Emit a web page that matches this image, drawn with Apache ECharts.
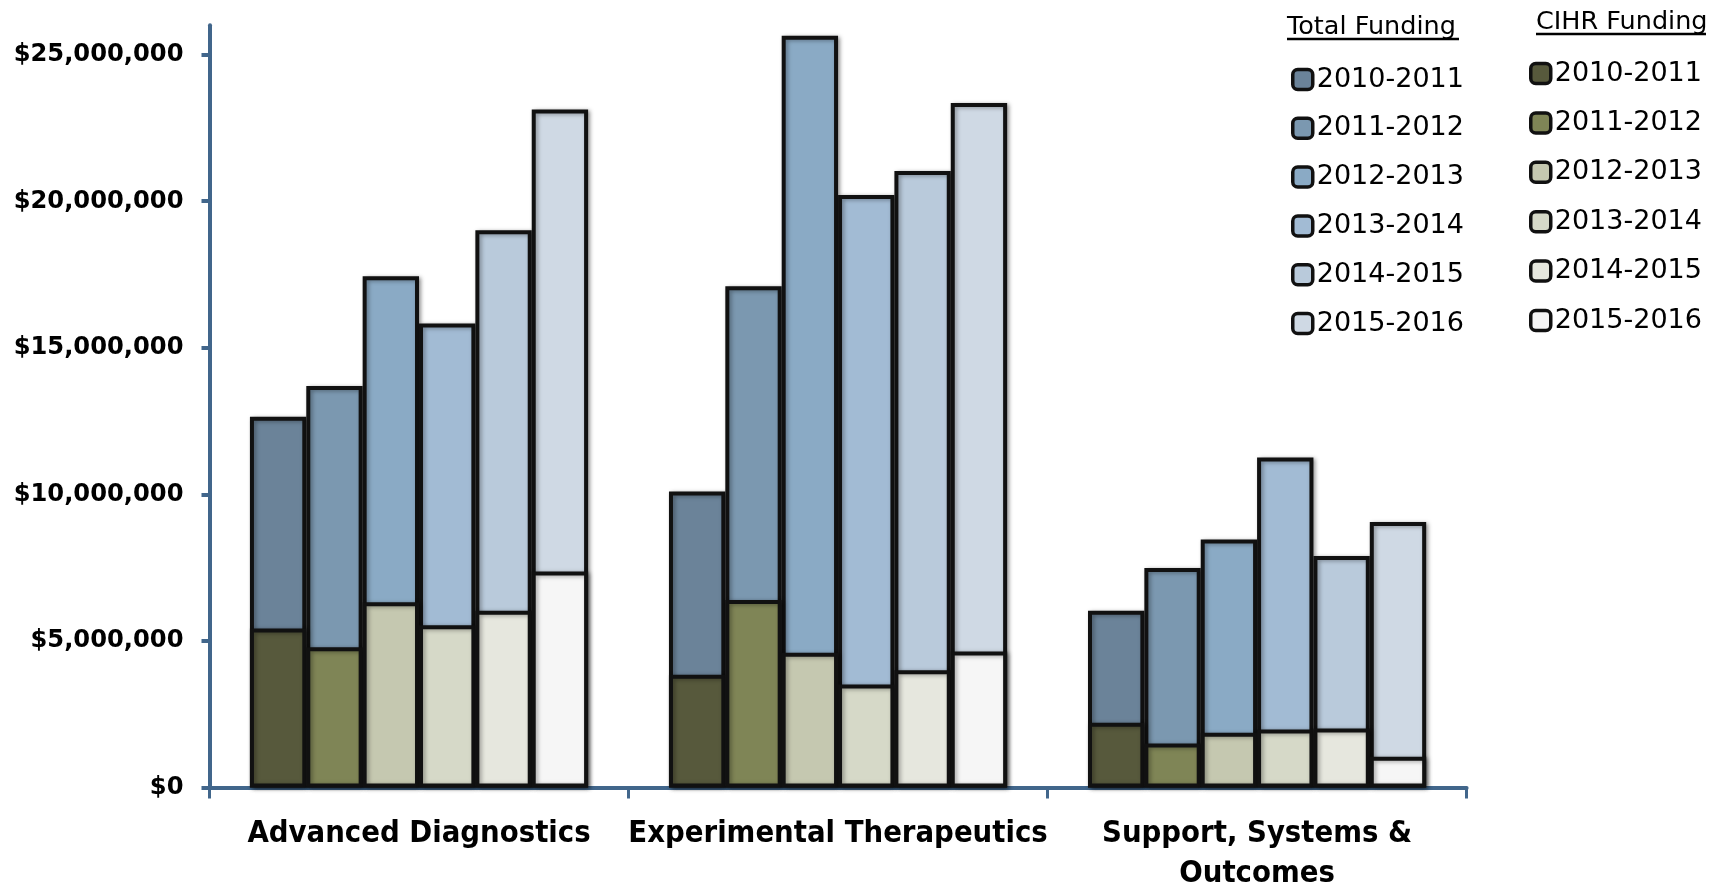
<!DOCTYPE html>
<html>
<head>
<meta charset="utf-8">
<title>Funding by Research Area</title>
<script src="https://cdn.jsdelivr.net/npm/echarts@6/dist/echarts.min.js"></script>
<style>
  html, body { margin: 0; padding: 0; background: #fff; }
  #chart { width: 1720px; height: 886px; }
</style>
</head>
<body>
<div id="chart"></div>
<script>
// Research areas along the x axis
const categories = ['Advanced Diagnostics', 'Experimental Therapeutics', 'Support, Systems & Outcomes'];

// Fiscal years
const years = ['2010-2011', '2011-2012', '2012-2013', '2013-2014', '2014-2015', '2015-2016'];

// Total funding per area (dollars), one array per fiscal year
const total_2010_2011 = [12650000, 10100000, 6030000];
const total_2011_2012 = [13700000, 17100000, 7490000];
const total_2012_2013 = [17440000, 25640000, 8460000];
const total_2013_2014 = [15830000, 20210000, 11260000];
const total_2014_2015 = [19010000, 21030000, 7900000];
const total_2015_2016 = [23130000, 23350000, 9060000];

// CIHR share of funding per area (dollars), one array per fiscal year
const cihr_2010_2011 = [5430000, 3850000, 2210000];
const cihr_2011_2012 = [4790000, 6400000, 1500000];
const cihr_2012_2013 = [6320000, 4600000, 1870000];
const cihr_2013_2014 = [5540000, 3520000, 1980000];
const cihr_2014_2015 = [6030000, 4000000, 2020000];
const cihr_2015_2016 = [7370000, 4640000, 1050000];

// Value axis tick positions
const yTicks = [0, 5000000, 10000000, 15000000, 20000000, 25000000];

const totalSets = [total_2010_2011, total_2011_2012, total_2012_2013, total_2013_2014, total_2014_2015, total_2015_2016];
const cihrSets = [cihr_2010_2011, cihr_2011_2012, cihr_2012_2013, cihr_2013_2014, cihr_2014_2015, cihr_2015_2016];

const totalColors = ['#6b8399', '#7b98b0', '#8aaac5', '#a2bbd4', '#b9cadb', '#cfd9e4'];
const cihrColors = ['#57593c', '#7f8556', '#c5c8b0', '#d6d9c8', '#e6e7de', '#f6f6f6'];

const AXIS_BLUE = '#41668b';
const TOTAL_PREFIX = 'Total ';
const CIHR_PREFIX = 'CIHR ';

function barStyle(color) {
  return {
    color: color,
    borderColor: '#111',
    borderWidth: 4,
    shadowColor: 'rgba(0,0,0,0.35)',
    shadowBlur: 4,
    shadowOffsetX: 2,
    shadowOffsetY: 1
  };
}

const series = [];
years.forEach(function (y, i) {
  series.push({
    name: TOTAL_PREFIX + y,
    type: 'bar',
    xAxisIndex: 0,
    data: totalSets[i],
    barGap: '0%',
    barCategoryGap: '19.3%',
    itemStyle: barStyle(totalColors[i])
  });
});
years.forEach(function (y, i) {
  series.push({
    name: CIHR_PREFIX + y,
    type: 'bar',
    xAxisIndex: 1,
    data: cihrSets[i],
    barGap: '0%',
    barCategoryGap: '19.3%',
    itemStyle: barStyle(cihrColors[i])
  });
});

// One vertical legend column per funding source
function legendFor(prefix, colors, left, top, gap) {
  return {
    orient: 'vertical',
    left: left,
    top: top,
    itemWidth: 20,
    itemHeight: 20,
    itemGap: gap,
    selectedMode: false,
    data: years.map(function (y, i) {
      return { name: prefix + y, itemStyle: { color: colors[i], borderColor: '#111', borderWidth: 3.5, shadowBlur: 0 } };
    }),
    formatter: function (name) { return name.slice(prefix.length); },
    textStyle: {
      fontFamily: 'DejaVu Sans',
      fontSize: 27,
      color: '#000',
      lineHeight: 20,
      padding: [0, 0, 0, -1]
    }
  };
}

const headingFont = '25.5px "DejaVu Sans"';

const option = {
  backgroundColor: '#fff',
  animation: false,
  grid: { left: 209.5, right: 253.4, top: 25.3, bottom: 98.4, containLabel: false, outerBoundsMode: 'none' },
  legend: [
    legendFor(TOTAL_PREFIX, totalColors, 1286, 61, 21.8),
    legendFor(CIHR_PREFIX, cihrColors, 1524, 55, 22.4)
  ],
  graphic: [
    { type: 'text', left: 1287, top: 14, style: { text: 'Total Funding', font: headingFont, fill: '#000' } },
    { type: 'line', shape: { x1: 1287, y1: 39, x2: 1459, y2: 39 }, style: { stroke: '#000', lineWidth: 2.5 } },
    { type: 'text', left: 1536, top: 9, style: { text: 'CIHR Funding', font: headingFont, fill: '#000' } },
    { type: 'line', shape: { x1: 1536, y1: 34, x2: 1706, y2: 34 }, style: { stroke: '#000', lineWidth: 2.5 } }
  ],
  xAxis: [
    {
      type: 'category',
      data: categories,
      axisLine: { lineStyle: { color: AXIS_BLUE, width: 4 } },
      axisTick: { show: true, length: 11, lineStyle: { color: AXIS_BLUE, width: 3 } },
      axisLabel: {
        interval: 0,
        margin: 26,
        color: '#000',
        fontFamily: 'DejaVu Sans Condensed',
        fontWeight: 'bold',
        fontSize: 30.7,
        lineHeight: 40,
        formatter: function (v) { return v.replace('& ', '&\n'); }
      }
    },
    {
      type: 'category',
      data: categories,
      show: false
    }
  ],
  yAxis: {
    type: 'value',
    min: 0,
    max: 26000000,
    splitLine: { show: false },
    axisLine: { show: true, lineStyle: { color: AXIS_BLUE, width: 4 } },
    axisTick: { show: true, length: 8, customValues: yTicks, lineStyle: { color: AXIS_BLUE, width: 4 } },
    axisLabel: {
      customValues: yTicks,
      margin: 26,
      color: '#000',
      fontFamily: 'DejaVu Sans',
      fontWeight: 'bold',
      fontSize: 24.2,
      formatter: function (v) { return '$' + Number(v).toLocaleString('en-US'); }
    }
  },
  series: series
};

const chart = echarts.init(document.getElementById('chart'), null, { renderer: 'canvas' });
chart.setOption(option);
</script>
</body>
</html>
